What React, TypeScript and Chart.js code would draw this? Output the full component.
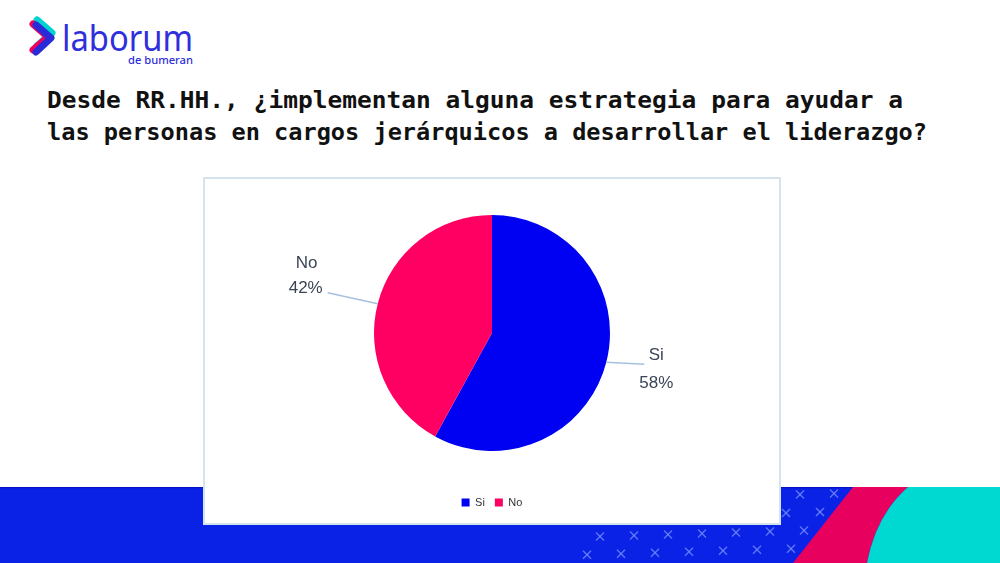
import React, { useEffect, useRef } from "react";
import { Chart, registerables } from "chart.js";

Chart.register(...registerables);

const categories: string[] = ["Si", "No"];
const values: number[] = [58, 42];
const sliceColors: string[] = ["#0000f2", "#ff0062"];
const titleLines: string[] = [
  "Desde RR.HH., ¿implementan alguna estrategia para ayudar a",
  "las personas en cargos jerárquicos a desarrollar el liderazgo?",
];

const calloutPlugin = {
  id: "callouts",
  afterDatasetsDraw(chart: any, _args: any, opts: any) {
    const ctx: CanvasRenderingContext2D = chart.ctx;
    const meta = chart.getDatasetMeta(0);
    meta.data.forEach((arc: any, i: number) => {
      const p = arc.getProps(["x", "y", "startAngle", "endAngle", "outerRadius"], true);
      const mid = (p.startAngle + p.endAngle) / 2;
      const ex = p.x + Math.cos(mid) * p.outerRadius;
      const ey = p.y + Math.sin(mid) * p.outerRadius;
      const o = opts.offsets[i];
      ctx.save();
      ctx.strokeStyle = opts.lineColor;
      ctx.lineWidth = 1.5;
      ctx.beginPath();
      ctx.moveTo(ex, ey);
      ctx.lineTo(ex + o.line[0], ey + o.line[1]);
      ctx.stroke();
      ctx.fillStyle = opts.textColor;
      ctx.font = opts.font;
      ctx.textAlign = "center";
      ctx.textBaseline = "middle";
      ctx.fillText(categories[i], ex + o.t1[0], ey + o.t1[1]);
      ctx.fillText(values[i] + "%", ex + o.t2[0], ey + o.t2[1]);
      ctx.restore();
    });
  },
};

function PieChart() {
  const ref = useRef<HTMLCanvasElement | null>(null);
  useEffect(() => {
    if (!ref.current) return;
    const chart = new Chart(ref.current, {
      type: "pie",
      data: {
        labels: categories,
        datasets: [
          {
            data: values,
            backgroundColor: sliceColors,
            borderWidth: 0,
            radius: 118,
          } as any,
        ],
      },
      options: {
        animation: false,
        responsive: true,
        maintainAspectRatio: false,
        layout: { padding: { top: 0, bottom: 5, left: 0, right: 0 } },
        plugins: {
          tooltip: { enabled: false },
          legend: {
            position: "bottom",
            labels: {
              boxWidth: 8,
              boxHeight: 8,
              padding: 10,
              color: "#333333",
              font: { size: 11, family: "'Liberation Sans', Arial, sans-serif" },
            },
          },
          callouts: {
            lineColor: "#a6c1e0",
            textColor: "#3a4556",
            font: "17px 'Liberation Sans', Arial, sans-serif",
            offsets: [
              { line: [38, 2], t1: [50, -7], t2: [50, 21] },
              { line: [-50, -11], t1: [-71, -40], t2: [-72, -15] },
            ],
          },
        } as any,
      },
      plugins: [calloutPlugin],
    });
    return () => chart.destroy();
  }, []);
  return <canvas ref={ref} />;
}

function Background() {
  const marks: JSX.Element[] = [];
  const rowOffsets = [18, 4, 22, 9];
  for (let r = 0; r < 4; r++) {
    const y = 501 + r * 18;
    const off = rowOffsets[r];
    for (let k = 0; k < 10; k++) {
      const x = 578 + off + k * 34;
      const yy = y - (x - 580) / 34;
      if (x < 583 || x > 850) continue;
      if (r < 2 && x < 785) continue;
      marks.push(
        <g key={r + "-" + k} stroke="rgba(120,145,255,0.75)" strokeWidth={1.4}>
          <line x1={x - 4} y1={yy - 4} x2={x + 4} y2={yy + 4} />
          <line x1={x + 4} y1={yy - 4} x2={x - 4} y2={yy + 4} />
        </g>
      );
    }
  }
  return (
    <svg width={1000} height={563} style={{ position: "absolute", left: 0, top: 0 }}>
      <rect x={0} y={487} width={1000} height={76} fill="#0a22e6" />
      <rect x={0} y={487} width={1000} height={1.2} fill="#0714c4" />
      {marks}
      <path d="M853,487 L908,487 Q876,515 867,563 L793,563 Z" fill="#e8005e" />
      <path d="M908,487 L1000,487 L1000,563 L867,563 Q876,515 908,487 Z" fill="#00d9d2" />
    </svg>
  );
}

function Foreground() {
  return (
    <svg width={1000} height={170} style={{ position: "absolute", left: 0, top: 0 }}>
      <g fill="none" strokeWidth={7} strokeLinecap="round" strokeLinejoin="round">
        <polyline points="37,20 52,33 37,46" stroke="#00d3d0" />
        <polyline points="33,24 48,37 33,50" stroke="#f0005e" />
        <polyline points="36,25 51,38 36,52" stroke="#2a2ad8" />
      </g>
      <text
        x={62}
        y={51}
        textLength={131}
        lengthAdjust="spacingAndGlyphs"
        fill="#2f2fdc"
        style={{ font: "400 37px 'Noto Sans', sans-serif" }}
      >
        laborum
      </text>
      <text
        x={128}
        y={64}
        textLength={65}
        lengthAdjust="spacingAndGlyphs"
        fill="#2f2fdc"
        style={{ font: "500 11px 'Noto Sans', sans-serif" }}
      >
        de bumeran
      </text>
      <text
        x={47}
        y={108}
        textLength={856}
        lengthAdjust="spacingAndGlyphs"
        fill="#111"
        style={{ font: "bold 23px 'DejaVu Sans Mono', monospace" }}
      >
        {titleLines[0]}
      </text>
      <text
        x={47}
        y={140}
        textLength={880}
        lengthAdjust="spacingAndGlyphs"
        fill="#111"
        style={{ font: "bold 23px 'DejaVu Sans Mono', monospace" }}
      >
        {titleLines[1]}
      </text>
    </svg>
  );
}

export default function App() {
  return (
    <div
      style={{
        position: "fixed",
        left: 0,
        top: 0,
        width: 1000,
        height: 563,
        overflow: "hidden",
        background: "#fff",
      }}
    >
      <Background />
      <Foreground />
      <div
        style={{
          position: "absolute",
          left: 203,
          top: 177,
          width: 578,
          height: 348,
          boxSizing: "border-box",
          border: "2px solid #d5e3ef",
          background: "#fff",
        }}
      >
        <div style={{ position: "relative", width: "100%", height: "100%" }}>
          <PieChart />
        </div>
      </div>
    </div>
  );
}
